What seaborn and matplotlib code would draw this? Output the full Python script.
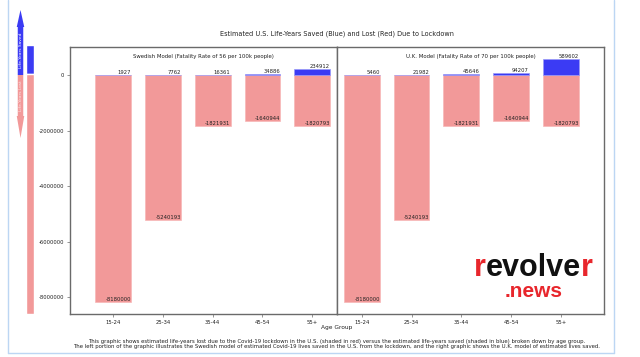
import pandas as pd
import matplotlib
matplotlib.use('Agg')
import matplotlib.pyplot as plt
from matplotlib.patches import FancyArrow
import seaborn as sns

# Data
age_groups = ['15-24', '25-34', '35-44', '45-54', '55+']
saved_sweden = [1927, 7762, 16361, 34886, 234912]
saved_uk = [5460, 21982, 45646, 94207, 589602]
lost = [-8180000, -5240193, -1821931, -1640944, -1820793]

panel_titles = ['Swedish Model (Fatality Rate of 56 per 100k people)',
                'U.K. Model (Fatality Rate of 70 per 100k people)']
title = 'Estimated U.S. Life-Years Saved (Blue) and Lost (Red) Due to Lockdown'
footer = ('This graphic shows estimated life-years lost due to the Covid-19 lockdown in the U.S. '
          '(shaded in red) versus the estimated life-years saved (shaded in blue) broken down by age group.\n'
          'The left portion of the graphic illustrates the Swedish model of estimated Covid-19 lives saved '
          'in the U.S. from the lockdown, and the right graphic shows the U.K. model of estimated lives saved.')

red = '#F29999'
blue = '#3B3BF4'
spine_col = '#6a6a6a'
text_col = '#222222'

sns.set_style('white')
plt.rcParams['font.family'] = ['DejaVu Sans']
plt.rcParams['axes.unicode_minus'] = False

W, H = 640, 357
fig = plt.figure(figsize=(W / 100, H / 100), dpi=100)


def box(x0, y0, x1, y1):
    # pixel box (top-left origin) -> figure fraction rect
    return [x0 / W, 1 - y1 / H, (x1 - x0) / W, (y1 - y0) / H]


ax1 = fig.add_axes(box(70, 47, 337, 314))
ax2 = fig.add_axes(box(337, 47, 604, 314), sharey=ax1)

bw = 0.72
for ax, saved, ptitle in zip([ax1, ax2], [saved_sweden, saved_uk], panel_titles):
    df = pd.DataFrame({'age': age_groups, 'saved': saved, 'lost': lost})
    sns.barplot(data=df, x='age', y='lost', color=red, saturation=1, width=bw,
                errorbar=None, edgecolor='#F7B8B8', linewidth=0.5, ax=ax)
    sns.barplot(data=df, x='age', y='saved', color=blue, saturation=1, width=bw,
                errorbar=None, edgecolor='#9a9af8', linewidth=0.5, ax=ax)
    for i, (s, l) in enumerate(zip(saved, lost)):
        ax.text(i + bw / 2, s, str(s), ha='right', va='bottom', fontsize=3.8, color=text_col)
        ax.text(i + bw / 2, l, str(l), ha='right', va='bottom', fontsize=3.8, color=text_col)
    ax.text(0.5, 0.975, ptitle, transform=ax.transAxes, ha='center', va='top',
            fontsize=3.9, color=text_col)
    ax.set_xlabel('')
    ax.set_ylabel('')
    for sp in ax.spines.values():
        sp.set_color(spine_col)
        sp.set_linewidth(1.0)
    ax.tick_params(axis='both', labelsize=3.8, length=2.5, width=0.5, pad=1.5,
                   colors=spine_col, labelcolor=text_col, bottom=True, left=True)

ax1.set_xlim(-0.87, 4.5)
ax2.set_xlim(-0.5, 4.87)
ax1.ticklabel_format(axis='y', style='plain', useOffset=False)
ax1.set_yticks([0, -2000000, -4000000, -6000000, -8000000])
ax2.tick_params(left=False, labelleft=False)
ylo, yhi = ax1.get_ylim()
ax1.set_ylim(ylo, yhi)

# narrow indicator bar on the left
ax0 = fig.add_axes(box(26, 45, 34, 314), sharey=ax1)
ax0.bar([0], [yhi], width=1, color=blue)
ax0.bar([0], [ylo], width=1, color=red)
ax0.set_xlim(-0.5, 0.5)
ax0.axis('off')

fig.text(337 / W, 1 - 34 / H, title, ha='center', va='center', fontsize=4.7, color=text_col)
fig.text(337 / W, 1 - 328 / H, 'Age Group', ha='center', va='center', fontsize=4.2, color=text_col)
fig.text(337 / W, 1 - 344 / H, footer, ha='center', va='center', fontsize=3.85,
         color=text_col, linespacing=1.2)

# overlay in pixel units for arrows, logo and frame
ov = fig.add_axes([0, 0, 1, 1], facecolor='none')
ov.set_xlim(0, W)
ov.set_ylim(H, 0)
ov.axis('off')
ov.add_patch(FancyArrow(20.5, 75, 0, -65, width=5.5, head_width=7.5, head_length=17,
                        length_includes_head=True, color=blue, lw=0))
ov.add_patch(FancyArrow(20.5, 75, 0, 63, width=5.5, head_width=7.5, head_length=22,
                        length_includes_head=True, color=red, lw=0))
ov.text(20.5, 50, 'Life-Years Saved', rotation=90, ha='center', va='center',
        fontsize=3.2, color='white')
ov.text(20.5, 96, 'Life-Years Lost', rotation=90, ha='center', va='center',
        fontsize=3.2, color='#fde5e5')

# screenshot frame
ov.plot([8, 8], [0, 353], color='#BCD6F3', lw=1)
ov.plot([614, 614], [0, 353], color='#BCD6F3', lw=1)
ov.plot([8, 614], [353, 353], color='#BCD6F3', lw=1)

# logo
logo_red = '#E8262C'
fig.canvas.draw()
r = fig.canvas.get_renderer()
x = 474
for part, col in [('r', logo_red), ('evolve', '#111111'), ('r', logo_red)]:
    t = ov.text(x, 276, part, ha='left', va='baseline', fontsize=22, fontweight='bold',
                family='Liberation Sans', color=col)
    x += t.get_window_extent(r).width
ov.text(534, 297, '.news', ha='center', va='baseline', fontsize=15, fontweight='bold',
        family='Liberation Sans', color=logo_red)

fig.savefig('out.png', dpi=100)
